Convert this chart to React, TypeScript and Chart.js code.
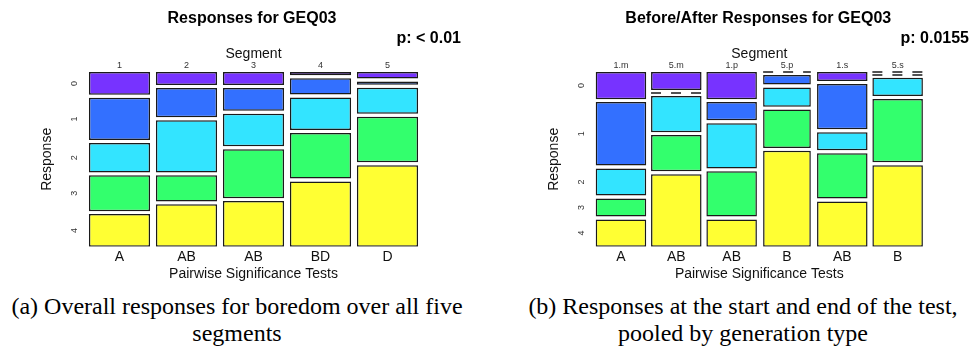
import React, { useEffect, useRef } from 'react';
import { Chart, registerables } from 'chart.js';

Chart.register(...registerables);

// ---------------- data ----------------
const RESPONSES = ['0', '1', '2', '3', '4'];

// (a) overall responses, five segments – counts per response level
const SEGMENTS_A = ['1', '2', '3', '4', '5'];
const TESTS_A = ['A', 'AB', 'AB', 'BD', 'D'];
const A_R0 = [7, 4, 4, 1, 2];
const A_R1 = [13, 9, 7, 5, 1];
const A_R2 = [9, 16, 10, 10, 8];
const A_R3 = [11, 8, 15, 14, 14];
const A_R4 = [10, 13, 14, 20, 25];

// (b) start / end of the test, pooled by generation type – counts per response level
const SEGMENTS_B = ['1.m', '5.m', '1.p', '5.p', '1.s', '5.s'];
const TESTS_B = ['A', 'AB', 'AB', 'B', 'AB', 'B'];
const B_R0 = [3, 2, 3, 0, 1, 0];
const B_R1 = [7, 0, 2, 1, 5, 0];
const B_R2 = [3, 4, 5, 2, 2, 2];
const B_R3 = [2, 4, 5, 4, 5, 7];
const B_R4 = [3, 8, 3, 10, 5, 9];

const TITLE_A = 'Responses for GEQ03';
const PVAL_A = 'p: < 0.01';
const TITLE_B = 'Before/After Responses for GEQ03';
const PVAL_B = 'p: 0.0155';
const X_TOP_TITLE = 'Segment';
const X_BOTTOM_TITLE = 'Pairwise Significance Tests';
const Y_TITLE = 'Response';
const CAPTION_A = ['(a) Overall responses for boredom over all five', 'segments'];
const CAPTION_B = ['(b) Responses at the start and end of the test,', 'pooled by generation type'];

// ---------------- style ----------------
const COLORS = ['#7733FF', '#3370FF', '#33E4FF', '#33FF6D', '#FFFF33'];
const BORDER = '#1a1a1a';
const GAP = 1.8; // vertical gap between tiles (in % units of the column)
const BAR_FRACTION = 0.913;
const SANS = "'Liberation Sans', Arial, Helvetica, sans-serif";
const SERIF = "'Liberation Serif', 'Times New Roman', serif";
const CANVAS_H = 290;

Chart.defaults.font.family = SANS;

interface Layout {
  left: number;
  width: number;
  padLeft: number;
  padRight: number;
  yAxisWidth: number;
  rightAxisWidth: number;
  yTitlePad: number;
}

const LAYOUT_A: Layout = { left: 0, width: 487, padLeft: 43, padRight: 26, yAxisWidth: 43, rightAxisWidth: 40, yTitlePad: -4.7 };
const LAYOUT_B: Layout = { left: 487, width: 488, padLeft: 60.6, padRight: 6, yAxisWidth: 45.7, rightAxisWidth: 43.7, yTitlePad: -2.3 };

interface MosaicProps {
  segments: string[];
  tests: string[];
  levels: number[][];
  title: string;
  pval: string;
  layout: Layout;
}

function MosaicChart({ segments, tests, levels, title, pval, layout }: MosaicProps) {
  const ref = useRef<HTMLCanvasElement>(null);

  useEffect(() => {
    if (!ref.current) return;
    const nCols = segments.length;
    const totals = segments.map((_, c) => levels.reduce((s, lv) => s + lv[c], 0));
    const maxN = Math.max(...totals);

    // tile ranges in % units with gaps
    const ranges: [number, number][][] = segments.map((_, c) => {
      let pos = 0;
      return levels.map((lv) => {
        const h = (lv[c] / totals[c]) * 100;
        const r: [number, number] = [pos, pos + h];
        pos += h + GAP;
        return r;
      });
    });
    const yMax = 100 + GAP * (levels.length - 1);
    const tickCenters = ranges[0].map(([s, e]) => (s + e) / 2);

    const datasets: any[] = [];
    segments.forEach((_, c) => {
      const frac = (BAR_FRACTION * totals[c]) / maxN;
      levels.forEach((lv, r) => {
        if (lv[c] > 0) {
          datasets.push({
            type: 'bar',
            xAxisID: 'x',
            yAxisID: 'y',
            data: segments.map((__, j) => (j === c ? ranges[c][r] : null)),
            backgroundColor: COLORS[r],
            borderColor: BORDER,
            borderWidth: 1.5,
            borderSkipped: false,
            barPercentage: frac,
            categoryPercentage: 1,
            grouped: false,
          });
        } else {
          const y = ranges[c][r][0];
          datasets.push({
            type: 'line',
            xAxisID: 'xl',
            yAxisID: 'y',
            data: [
              { x: c - frac / 2, y },
              { x: c + frac / 2, y },
            ],
            borderColor: BORDER,
            borderWidth: 1.4,
            borderDash: [10, 10],
            pointRadius: 0,
            fill: false,
            clip: false,
          });
        }
      });
    });

    const chart = new Chart(ref.current, {
      type: 'bar',
      data: { labels: tests, datasets },
      options: {
        animation: false,
        responsive: false,
        devicePixelRatio: 1,
        layout: { padding: { left: layout.padLeft, right: layout.padRight, top: 0, bottom: 0 } },
        plugins: {
          legend: { display: false },
          tooltip: { enabled: false },
          title: {
            display: true,
            text: title,
            align: 'center',
            color: '#000',
            font: { size: 16, weight: 'bold', family: SANS },
            padding: { top: 8.7, bottom: 0 },
          },
          subtitle: {
            display: true,
            text: pval,
            align: 'end',
            color: '#000',
            font: { size: 16, weight: 'bold', family: SANS },
            padding: { top: 1.5, bottom: 0 },
          },
        },
        scales: {
          x: {
            type: 'category',
            position: 'bottom',
            offset: true,
            labels: tests,
            grid: { display: false, drawTicks: false },
            border: { display: false },
            ticks: { padding: 1.6, color: '#111', font: { size: 14, family: SANS }, autoSkip: false, maxRotation: 0 },
            title: { display: true, text: X_BOTTOM_TITLE, color: '#111', font: { size: 14, family: SANS }, padding: { top: 0, bottom: 7.3 } },
            afterFit: (s: any) => { s.height = 43.3; },
          },
          xTop: {
            type: 'category',
            position: 'top',
            offset: true,
            labels: segments,
            grid: { display: false, drawTicks: false },
            border: { display: false },
            ticks: { padding: 0.6, color: '#333', font: { size: 9, family: SANS }, autoSkip: false, maxRotation: 0 },
            title: { display: true, text: X_TOP_TITLE, color: '#111', font: { size: 14, family: SANS }, padding: { top: -2.5, bottom: 0 } },
            afterFit: (s: any) => { s.height = 23.4; },
          },
          xl: {
            type: 'linear',
            display: false,
            offset: false,
            min: -0.5,
            max: nCols - 0.5,
          },
          y: {
            type: 'linear',
            position: 'left',
            reverse: true,
            min: 0,
            max: yMax,
            stacked: false,
            grid: { display: false, drawTicks: false },
            border: { display: false },
            afterBuildTicks: (s: any) => { s.ticks = tickCenters.map((v) => ({ value: v })); },
            ticks: {
              autoSkip: false,
              minRotation: 90,
              maxRotation: 90,
              crossAlign: 'center',
              padding: 9,
              color: '#333',
              font: { size: 9, family: SANS },
              callback: (_v: any, i: number) => RESPONSES[i],
            },
            title: { display: true, text: Y_TITLE, color: '#111', font: { size: 14, family: SANS }, padding: { top: layout.yTitlePad, bottom: 0 } },
            afterFit: (s: any) => { s.width = layout.yAxisWidth; },
          },
          yRight: {
            type: 'linear',
            position: 'right',
            display: true,
            grid: { display: false, drawTicks: false },
            border: { display: false },
            ticks: { display: false },
            afterFit: (s: any) => { s.width = layout.rightAxisWidth; },
          },
        },
      } as any,
    });
    return () => chart.destroy();
  }, [segments, tests, levels, title, pval, layout]);

  return (
    <canvas
      ref={ref}
      width={layout.width}
      height={CANVAS_H}
      style={{ position: 'absolute', left: layout.left, top: 0, width: layout.width, height: CANVAS_H }}
    />
  );
}

function Caption({ lines, center }: { lines: string[]; center: number }) {
  return (
    <div
      style={{
        position: 'absolute',
        left: center - 300,
        top: 292.9,
        width: 600,
        textAlign: 'center',
        fontFamily: SERIF,
        fontSize: 24,
        lineHeight: '27px',
        color: '#000',
        whiteSpace: 'pre',
      }}
    >
      {lines.map((l, i) => (
        <div key={i}>{l}</div>
      ))}
    </div>
  );
}

const LEVELS_A = [A_R0, A_R1, A_R2, A_R3, A_R4];
const LEVELS_B = [B_R0, B_R1, B_R2, B_R3, B_R4];

export default function App() {
  return (
    <div style={{ position: 'absolute', left: 0, top: 0, width: 975, height: 346, background: '#fff', overflow: 'hidden' }}>
      <MosaicChart segments={SEGMENTS_A} tests={TESTS_A} levels={LEVELS_A} title={TITLE_A} pval={PVAL_A} layout={LAYOUT_A} />
      <MosaicChart segments={SEGMENTS_B} tests={TESTS_B} levels={LEVELS_B} title={TITLE_B} pval={PVAL_B} layout={LAYOUT_B} />
      <Caption lines={CAPTION_A} center={237} />
      <Caption lines={CAPTION_B} center={743} />
    </div>
  );
}
